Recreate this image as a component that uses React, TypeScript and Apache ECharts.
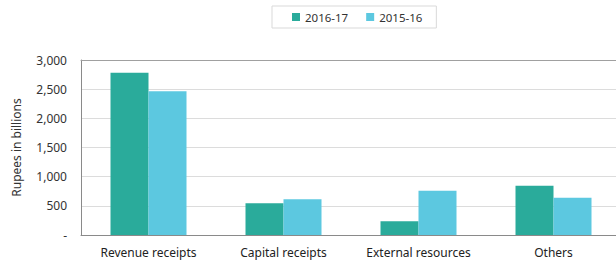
import React, { useEffect, useRef } from "react";
import * as echarts from "echarts";

const categories = ["Revenue receipts", "Capital receipts", "External resources", "Others"];
const series2016 = [2780, 545, 235, 845];
const series2015 = [2465, 615, 760, 640];
const seriesNames = ["2016-17", "2015-16"];
const yTicks = [0, 500, 1000, 1500, 2000, 2500, 3000];

export default function App() {
  const ref = useRef<HTMLDivElement>(null);
  useEffect(() => {
    const chart = echarts.init(ref.current!, null, { renderer: "svg" });
    const font = "'Noto Sans', sans-serif";
    chart.setOption({
      animation: false,
      textStyle: { fontFamily: font },
      legend: {
        top: 6,
        left: 272,
        itemWidth: 8,
        itemHeight: 8,
        icon: "rect",
        itemGap: 18,
        padding: [5, 14, 5, 20],
        borderColor: "#d9d9d9",
        borderWidth: 1,
        textStyle: { fontFamily: font, fontSize: 11.5, color: "#333" },
        data: seriesNames,
      },
      grid: {
        left: 81,
        top: 60,
        width: 540,
        height: 175,
        outerBoundsMode: "none",
        containLabel: false,
      },
      xAxis: [
        {
          type: "category",
          data: categories,
          axisLine: { lineStyle: { color: "#8a8a8a" } },
          axisTick: { show: false },
          axisLabel: { fontFamily: font, fontSize: 12, color: "#222", margin: 11, interval: 0 },
        },
        {
          type: "category",
          position: "top",
          data: categories,
          axisLine: { lineStyle: { color: "#a0a0a0" } },
          axisTick: { show: false },
          axisLabel: { show: false },
        },
      ],
      yAxis: {
        type: "value",
        min: yTicks[0],
        max: yTicks[yTicks.length - 1],
        interval: 500,
        name: "Rupees in billions",
        nameLocation: "middle",
        nameGap: 59,
        nameTextStyle: { fontFamily: font, fontSize: 12, color: "#333" },
        axisLine: { show: true, lineStyle: { color: "#8a8a8a" } },
        axisTick: { show: false },
        splitLine: { lineStyle: { color: "#dcdcdc" } },
        axisLabel: {
          fontFamily: font,
          fontSize: 12,
          color: "#333",
          margin: 14,
          formatter: (v: number) => (v === 0 ? "-" : v.toLocaleString("en-US")),
        },
      },
      series: [
        {
          name: seriesNames[0],
          type: "bar",
          data: series2016,
          barWidth: 38,
          barGap: "0%",
          itemStyle: { color: "#2aab9b" },
        },
        {
          name: seriesNames[1],
          type: "bar",
          data: series2015,
          barWidth: 38,
          itemStyle: { color: "#5cc8e0" },
        },
      ],
    });
    return () => chart.dispose();
  }, []);
  return (
    <div
      ref={ref}
      style={{ position: "fixed", left: 0, top: 0, width: 616, height: 263, background: "#fff" }}
    />
  );
}
